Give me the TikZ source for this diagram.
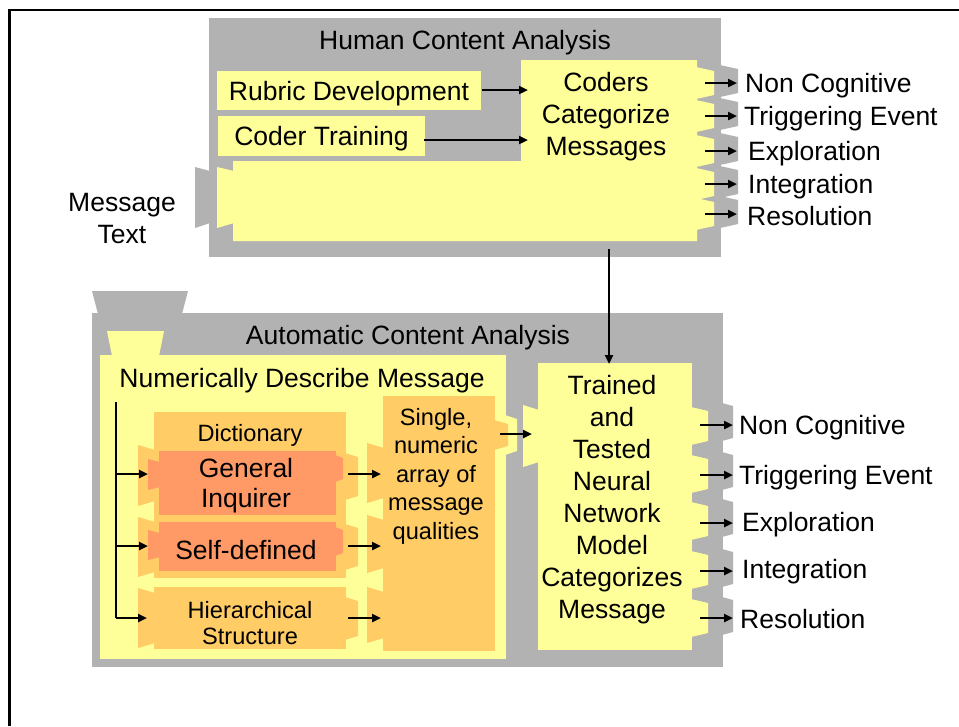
\documentclass[tikz,border=0pt]{standalone}
\usepackage{fontspec}
\setmainfont{Liberation Sans}
\usetikzlibrary{arrows.meta}
\definecolor{gry}{RGB}{178,178,178}
\definecolor{yel}{RGB}{255,255,153}
\definecolor{org}{RGB}{255,204,102}
\definecolor{sal}{RGB}{255,153,102}
\begin{document}
\begin{tikzpicture}[x=1pt,y=-1pt,
  big/.style={font=\fontsize{26.5}{32}\selectfont, inner sep=0pt, align=center, yshift=-3pt},
  small/.style={font=\fontsize{23.6}{28.5}\selectfont, inner sep=0pt, align=center, yshift=-3pt},
  lab/.style={font=\fontsize{26.5}{32}\selectfont, inner sep=0pt, anchor=west, yshift=-3pt},
  arr/.style={line width=2.3pt, -{Triangle[length=9pt,width=8pt]}},
  ln/.style={line width=2.3pt},
  boxy/.style={fill=yel, inner sep=0pt, outer sep=0pt}]
\useasboundingbox (0,0) rectangle (959,726);
% frame
\draw[line width=2.5pt] (959,10) -- (9.5,10) -- (9.5,726);

% ===== Human Content Analysis =====
\fill[gry] (209,18) rectangle (721,257);
\fill[gry] (195,167) -- (210,171) -- (210,223) -- (195,228) -- cycle;
\foreach \c in {81,114,149,182,212}
  \fill[gry] (720,{\c-16}) -- (738,{\c-12}) -- (738,{\c+12}) -- (720,{\c+16}) -- cycle;
\node[big] (hca) at (465,40) {Human Content Analysis};
\fill[yel] (217,71) rectangle (481,110);
\fill[yel] (218,116) rectangle (425,156);
\node[big] (rubric) at (349,90.5) {Rubric Development};
\node[big] (coder) at (321.5,136) {Coder Training};
\fill[yel] (521,60) -- (697,60) -- (697,241) -- (233,241) -- (233,161) -- (521,161) -- cycle;
\fill[yel] (217,167) -- (234,171) -- (234,223) -- (217,228) -- cycle;
\foreach \c in {83,116,151,184,214}
  \fill[yel] (696,{\c-16}) -- (714,{\c-12}) -- (714,{\c+12}) -- (696,{\c+16}) -- cycle;
\node[big] (coders) at (606,114) {Coders\\Categorize\\Messages};
\node[big] (msg) at (122,216) {Message\\Text};

\coordinate (rs) at (482,90);
\coordinate (cin1) at (528,90);
\coordinate (cs) at (424,140);
\coordinate (cin2) at (528,140);
\draw[arr] (rs) -- (cin1);
\draw[arr] (cs) -- (cin2);

\node[lab] (h1) at (745,83) {Non Cognitive};
\node[lab] (h2) at (744,116) {Triggering Event};
\node[lab] (h3) at (748,151) {Exploration};
\node[lab] (h4) at (748,184) {Integration};
\node[lab] (h5) at (747,213) {Resolution};
\foreach \i/\y in {1/83,2/116,3/151,4/184,5/214}{
  \coordinate (hs\i) at (705,\y);
  \coordinate (he\i) at (737,\y);
  \draw[arr] (hs\i) -- (he\i);
}

% ===== Automatic Content Analysis =====
\fill[gry] (92,291) -- (188,291) -- (182,314) -- (98,314) -- cycle;
\fill[gry] (92,313) rectangle (723,667);
\foreach \c in {422,471,518,568,616}
  \fill[gry] (722,{\c-19}) -- (733,{\c-16}) -- (733,{\c+16}) -- (722,{\c+19}) -- cycle;
\node[big] (aca) at (408,335) {Automatic Content Analysis};

% numerically describe message
\fill[yel] (100,355) rectangle (506,659);
\fill[yel] (107,331) -- (164,331) -- (159,356) -- (112,356) -- cycle;
\fill[yel] (505,415) -- (517,419) -- (517,451) -- (505,455) -- cycle;
\node[big] (ndm) at (302,378) {Numerically Describe Message};

% dictionary group
\fill[org] (154,412) rectangle (346,578);
\fill[org] (138,445) -- (155,450) -- (155,501) -- (138,506) -- cycle;
\fill[org] (138,517) -- (155,522) -- (155,572) -- (138,577) -- cycle;
\fill[org] (345,453) -- (358,457) -- (358,496) -- (345,500) -- cycle;
\fill[org] (345,524) -- (358,528) -- (358,566) -- (345,570) -- cycle;
\node[small] (dict) at (250,432) {Dictionary};

\fill[sal] (159,451) rectangle (336,515);
\fill[sal] (148,459) -- (160,462) -- (160,487) -- (148,490) -- cycle;
\fill[sal] (335,455) -- (343,458) -- (343,479) -- (335,482) -- cycle;
\node[big, font=\fontsize{26.5}{30}\selectfont] (gi) at (246,483) {General\\Inquirer};

\fill[sal] (159,522) rectangle (336,571);
\fill[sal] (148,530) -- (160,533) -- (160,557) -- (148,560) -- cycle;
\fill[sal] (335,527) -- (343,530) -- (343,553) -- (335,556) -- cycle;
\node[big] (sd) at (246,547) {Self-defined};

\fill[org] (154,587) rectangle (346,649);
\fill[org] (138,588) -- (155,593) -- (155,643) -- (138,648) -- cycle;
\fill[org] (345,597) -- (358,601) -- (358,636) -- (345,640) -- cycle;
\node[small, font=\fontsize{23.6}{26}\selectfont] (hs) at (250,620) {Hierarchical\\Structure};

% array
\fill[org] (383,396) rectangle (495,651);
\fill[org] (367,443) -- (384,448) -- (384,498) -- (367,503) -- cycle;
\fill[org] (367,515) -- (384,520) -- (384,568) -- (367,573) -- cycle;
\fill[org] (367,587) -- (384,592) -- (384,638) -- (367,643) -- cycle;
\fill[org] (494,420) -- (508,424) -- (508,446) -- (494,450) -- cycle;
\node[small] (arrq) at (436,473) {Single,\\numeric\\array of\\message\\qualities};

% trained
\fill[yel] (538,363) rectangle (692,650);
\fill[yel] (523,405) -- (539,410) -- (539,462) -- (523,467) -- cycle;
\foreach \c in {426,474,521,570,618}
  \fill[yel] (691,{\c-19}) -- (708,{\c-15}) -- (708,{\c+15}) -- (691,{\c+19}) -- cycle;
\node[big] (trained) at (612,497) {Trained\\and\\Tested\\Neural\\Network\\Model\\Categorizes\\Message};

% connectors
\coordinate (vtop) at (609,249);
\coordinate (vbot) at (609,364);
\draw[arr] (vtop) -- (vbot);

\coordinate (tr0) at (116,402);
\coordinate (tr1) at (116,474);
\coordinate (tr2) at (116,546);
\coordinate (tr3) at (116,618);
\coordinate (in1) at (148,474);
\coordinate (in2) at (148,546);
\coordinate (in3) at (147,618);
\draw[ln] (tr0) -- (tr3);
\draw[arr] (tr1) -- (in1);
\draw[arr] (tr2) -- (in2);
\draw[arr] (tr3) -- (in3);

\foreach \i/\y in {1/474,2/546,3/618}{
  \coordinate (ds\i) at (348,\y);
  \coordinate (de\i) at (381,\y);
  \draw[arr] (ds\i) -- (de\i);
}
\coordinate (as) at (500,434);
\coordinate (ae) at (532,434);
\draw[arr] (as) -- (ae);

\node[lab] (b1) at (739,425) {Non Cognitive};
\node[lab] (b2) at (739,475) {Triggering Event};
\node[lab] (b3) at (742,522) {Exploration};
\node[lab] (b4) at (742,569) {Integration};
\node[lab] (b5) at (740,616) {Resolution};
\foreach \i/\y in {1/425,2/475,3/523,4/571,5/618}{
  \coordinate (bs\i) at (700,\y);
  \coordinate (be\i) at (733,\y);
  \draw[arr] (bs\i) -- (be\i);
}
\end{tikzpicture}
\end{document}
